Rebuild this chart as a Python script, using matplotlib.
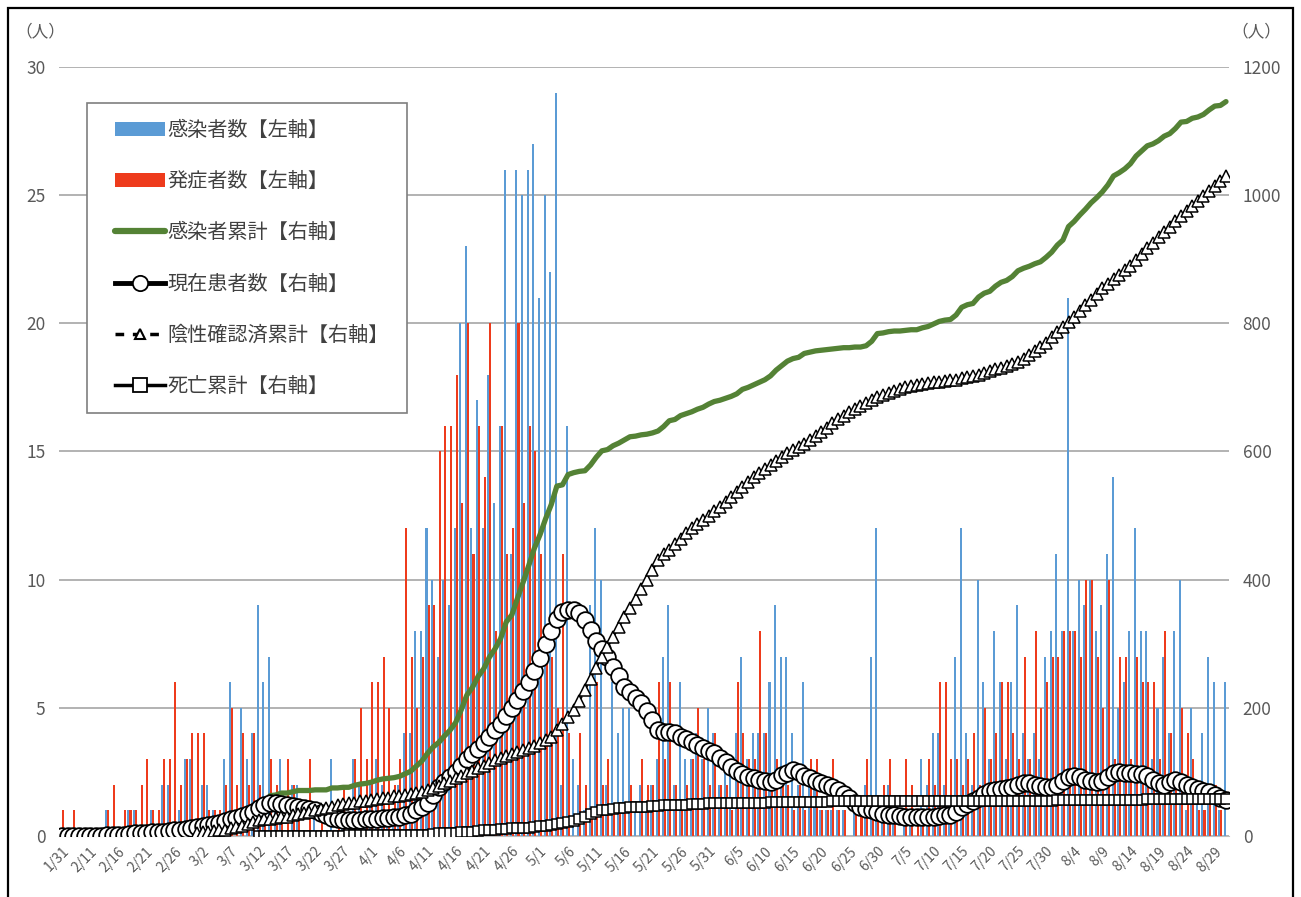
import numpy as np
import pandas as pd
import matplotlib
matplotlib.use('Agg')
import matplotlib.pyplot as plt
from matplotlib.lines import Line2D
from matplotlib.patches import Patch, Rectangle

plt.rcParams['font.family'] = ['Noto Sans CJK JP', 'DejaVu Sans']

# ---- categories ----
dates = ['1/31'] + [f'{d.month}/{d.day}' for d in pd.date_range('2020-02-07', '2020-08-31')]

# ---- daily infected (left axis) ----
infected = [
    0, 0, 0, 0, 0, 0, 0, 0, 1, 0,
    0, 0, 1, 1, 0, 0, 1, 0, 2, 2,
    0, 1, 3, 3, 0, 2, 2, 1, 0, 3,
    6, 0, 5, 3, 4, 9, 6, 7, 1, 3,
    0, 2, 2, 0, 0, 1, 0, 0, 3, 0,
    1, 0, 3, 2, 1, 2, 3, 2, 1, 1,
    2, 4, 4, 8, 8, 12, 10, 7, 10, 9,
    12, 20, 23, 12, 17, 12, 18, 13, 16, 26,
    11, 26, 25, 26, 27, 21, 25, 22, 29, 2,
    16, 3, 2, 1, 9, 12, 10, 2, 6, 4,
    5, 5, 1, 2, 1, 2, 3, 7, 9, 2,
    6, 3, 3, 4, 3, 5, 4, 2, 3, 3,
    4, 7, 3, 4, 4, 4, 6, 9, 7, 7,
    4, 2, 6, 2, 2, 1, 1, 1, 1, 1,
    0, 1, 0, 2, 7, 12, 1, 2, 1, 0,
    1, 1, 0, 3, 2, 4, 4, 2, 1, 7,
    12, 4, 2, 10, 6, 3, 8, 6, 3, 6,
    9, 4, 3, 4, 3, 7, 8, 11, 8, 21,
    8, 10, 9, 10, 8, 9, 11, 14, 5, 6,
    8, 12, 8, 8, 3, 5, 7, 4, 8, 10,
    1, 5, 2, 4, 7, 6, 1, 6,
]

# ---- daily onset (left axis) ----
onset = [
    1, 0, 1, 0, 0, 0, 0, 0, 1, 2,
    0, 1, 1, 1, 2, 3, 1, 1, 3, 3,
    6, 2, 3, 4, 4, 4, 1, 1, 1, 2,
    5, 2, 4, 2, 4, 2, 1, 3, 2, 1,
    3, 2, 1, 0, 3, 0, 1, 0, 0, 1,
    2, 0, 3, 5, 3, 6, 6, 7, 5, 2,
    3, 12, 7, 5, 7, 9, 9, 15, 16, 16,
    18, 13, 20, 11, 16, 14, 20, 8, 16, 11,
    12, 20, 13, 16, 15, 11, 8, 7, 5, 11,
    4, 0, 4, 2, 1, 6, 2, 3, 1, 1,
    1, 2, 0, 3, 2, 2, 6, 3, 6, 2,
    1, 2, 3, 5, 3, 2, 4, 2, 2, 1,
    6, 4, 3, 3, 8, 4, 2, 3, 2, 2,
    1, 2, 1, 3, 3, 1, 1, 3, 1, 1,
    0, 1, 1, 3, 1, 1, 2, 3, 1, 0,
    3, 2, 1, 1, 3, 2, 6, 6, 3, 3,
    2, 3, 4, 2, 5, 3, 4, 6, 6, 4,
    3, 7, 3, 8, 5, 6, 7, 7, 8, 8,
    8, 7, 10, 10, 7, 5, 10, 3, 7, 7,
    3, 7, 6, 6, 6, 3, 8, 4, 2, 5,
    4, 3, 1, 1, 2, 2, 1, 0,
]

# ---- current patients (right axis) ----
patients = [
    0, 0, 0, 0, 0, 0, 0, 0, 1, 1,
    1, 2, 3, 4, 4, 5, 6, 6, 7, 8,
    9, 10, 11, 12, 14, 16, 17, 18, 21, 23,
    26, 28, 31, 35, 38, 44, 48, 51, 51, 50,
    48, 47, 46, 44, 42, 40, 36, 32, 28, 26,
    25, 25, 25, 25, 26, 27, 27, 28, 28, 29,
    30, 32, 35, 40, 46, 52, 64, 76, 84, 92,
    100, 110, 120, 128, 136, 145, 155, 165, 175, 188,
    200, 212, 226, 240, 258, 278, 300, 320, 338, 350,
    352, 352, 348, 337, 322, 305, 292, 280, 264, 250,
    233, 225, 215, 207, 195, 181, 165, 163, 163, 160,
    155, 152, 147, 142, 138, 133, 129, 122, 115, 108,
    102, 97, 92, 90, 88, 86, 84, 88, 95, 98,
    103, 100, 94, 90, 86, 82, 79, 77, 72, 66,
    60, 52, 45, 42, 40, 38, 35, 33, 32, 31,
    30, 30, 30, 30, 30, 30, 31, 32, 33, 38,
    45, 50, 55, 60, 65, 70, 72, 74, 75, 77,
    79, 82, 82, 80, 78, 76, 77, 80, 86, 92,
    93, 92, 88, 86, 85, 86, 92, 98, 100, 99,
    98, 97, 96, 93, 88, 82, 80, 84, 87, 85,
    80, 77, 74, 71, 68, 64, 60, 56,
]

# ---- cumulative negative-confirmed (right axis) ----
negatives = [None] * 24 + [
    5, 6, 7, 8, 9, 10,
    12, 14, 16, 19, 22, 25, 26, 27, 28, 29,
    30, 32, 34, 36, 38, 40, 42, 44, 46, 48,
    50, 51, 52, 54, 55, 56, 57, 59, 60, 62,
    63, 64, 65, 67, 69, 72, 75, 78, 82, 86,
    90, 94, 98, 102, 106, 110, 114, 118, 121, 125,
    128, 131, 134, 137, 141, 145, 150, 155, 165, 175,
    185, 197, 210, 228, 245, 262, 280, 295, 310, 326,
    341, 356, 370, 385, 400, 415, 430, 440, 447, 455,
    464, 473, 480, 487, 493, 500, 507, 514, 521, 529,
    537, 545, 553, 560, 567, 573, 579, 585, 591, 597,
    602, 607, 612, 618, 624, 630, 637, 644, 650, 656,
    661, 666, 671, 676, 681, 685, 688, 691, 694, 697,
    700, 702, 704, 706, 707, 708, 709, 710, 711, 712,
    714, 716, 718, 720, 723, 726, 729, 731, 734, 737,
    740, 745, 751, 757, 763, 770, 778, 786, 794, 802,
    810, 819, 828, 837, 846, 855, 862, 869, 876, 883,
    890, 899, 908, 917, 926, 935, 943, 951, 959, 967,
    975, 983, 991, 999, 1007, 1015, 1022, 1030,
]

# ---- cumulative deaths (right axis) ----
deaths = [None] * 35 + [
    0, 0, 0, 0, 0, 0, 0, 0, 0, 0,
    0, 0, 0, 0, 0, 0, 1, 1, 1, 1,
    1, 1, 1, 1, 1, 1, 1, 2, 2, 2,
    2, 3, 4, 4, 5, 5, 6, 7, 7, 8,
    9, 10, 10, 11, 11, 12, 12, 13, 13, 14,
    15, 16, 17, 18, 20, 22, 24, 27, 30, 34,
    37, 40, 41, 42, 43, 44, 45, 45, 46, 46,
    47, 47, 48, 48, 49, 49, 49, 50, 50, 50,
    51, 51, 51, 51, 52, 52, 52, 52, 52, 52,
    52, 53, 53, 53, 53, 53, 53, 53, 53, 53,
    53, 53, 54, 54, 54, 54, 54, 54, 54, 54,
    54, 54, 54, 54, 54, 54, 54, 54, 54, 54,
    54, 54, 54, 54, 55, 55, 55, 55, 55, 55,
    55, 55, 55, 55, 55, 55, 55, 55, 55, 55,
    55, 55, 56, 56, 56, 56, 56, 56, 56, 56,
    56, 56, 56, 56, 56, 56, 56, 56, 57, 57,
    57, 57, 57, 57, 57, 57, 57, 57, 57, 57,
    57, 57, 57,
]

# cumulative infected = running total of daily infected, drawn from 3/14 on
cum_start = 37

n = len(dates)
for arr in (infected, onset, patients, negatives, deaths):
    assert len(arr) == n, len(arr)

labels = ['感染者数【左軸】', '発症者数【左軸】', '感染者累計【右軸】',
          '現在患者数【右軸】', '陰性確認済累計【右軸】', '死亡累計【右軸】']

BLUE = '#5B9BD5'
RED = '#EE3B1C'
GREEN = '#548235'
GRID = '#A6A6A6'
TXT = '#595959'

W, H = 1301, 897
fig = plt.figure(figsize=(W / 100, H / 100), dpi=100)
left_px, right_px, top_px, bot_px = 59.2, 1228.8, 67, 836
ax = fig.add_axes([left_px / W, 1 - bot_px / H, (right_px - left_px) / W, (bot_px - top_px) / H])
ax2 = ax.twinx()

x = np.arange(n)
inf = np.array(infected, dtype=float)
ons = np.array(onset, dtype=float)
ax.bar(x - 0.18, inf, width=0.36, color=BLUE, linewidth=0, zorder=2)
ax.bar(x + 0.18, ons, width=0.36, color=RED, linewidth=0, zorder=2)

ax.set_xlim(-0.5, n - 0.5)
ax.set_ylim(0, 30)
ax.set_yticks(np.arange(0, 31, 5))
ax.yaxis.grid(True, color=GRID, linewidth=1.2)
ax.set_axisbelow(True)
ax.tick_params(axis='y', length=0, pad=10, labelsize=12.5, labelcolor=TXT)
ticks = np.arange(0, n, 5)
ax.set_xticks(ticks)
ax.set_xticklabels([dates[i] for i in ticks], rotation=45, ha='right', va='top',
                   rotation_mode='anchor', fontsize=10, color=TXT)
ax.tick_params(axis='x', length=0, pad=6)
for s in ['left', 'right', 'top']:
    ax.spines[s].set_visible(False)
ax.spines['bottom'].set_color('#BFBFBF')

cum = np.cumsum(inf)
cum[:cum_start] = np.nan
ax2.plot(x, cum, color=GREEN, lw=3.8, solid_capstyle='round', zorder=3)
ax2.plot(x, np.array(patients, dtype=float), color='black', lw=3, marker='o', ms=12,
         mfc='white', mec='black', mew=1.3, zorder=4)
ax2.plot(x, np.array(negatives, dtype=float), color='black', lw=1.5, ls=(0, (4, 2)),
         marker='^', ms=9, mfc='white', mec='black', mew=1.1, zorder=5)
ax2.plot(x, np.array(deaths, dtype=float), color='black', lw=1.5, marker='s', ms=7.5,
         mfc='white', mec='black', mew=1.1, zorder=6)
ax2.set_ylim(0, 1200)
ax2.set_yticks(np.arange(0, 1201, 200))
ax2.tick_params(axis='y', length=0, pad=10, labelsize=12.5, labelcolor=TXT)
for s in ['left', 'right', 'top', 'bottom']:
    ax2.spines[s].set_visible(False)

# units
fig.text(40 / W, 1 - 32 / H, '（人）', ha='center', va='center', fontsize=12, color=TXT)
fig.text(1256 / W, 1 - 32 / H, '（人）', ha='center', va='center', fontsize=12, color=TXT)

# legend
handles = [
    Patch(facecolor=BLUE, edgecolor='none'),
    Patch(facecolor=RED, edgecolor='none'),
    Line2D([], [], color=GREEN, lw=4.5, solid_capstyle='round'),
    Line2D([], [], color='black', lw=3.5, marker='o', ms=11, mfc='white', mec='black', mew=1.3),
    Line2D([], [], color='black', lw=2.5, ls=(0, (2.5, 2.5)), marker='^', ms=7, mfc='white',
           mec='black', mew=1.5),
    Line2D([], [], color='black', lw=2.5, marker='s', ms=10, mfc='white', mec='black', mew=1.3),
]
fig.add_artist(Rectangle((87 / W, 1 - 413 / H), (407 - 87) / W, (413 - 103) / H,
                         transform=fig.transFigure, facecolor='white', edgecolor='#7F7F7F',
                         lw=1.2, zorder=9))
leg = fig.legend(handles, labels, loc='upper left', bbox_to_anchor=(115 / W, 1 - 120 / H),
                 frameon=False, fontsize=14.5, handlelength=2.5, handleheight=0.7,
                 handletextpad=0.1, labelspacing=1.5, borderpad=0, borderaxespad=0)
leg.set_zorder(10)
for t in leg.get_texts():
    t.set_color('#404040')

# outer frame
fig.add_artist(Rectangle((8 / W, -0.02), (1293 - 8) / W, 1 - 8 / H + 0.02,
                         transform=fig.transFigure, fill=False, edgecolor='black', lw=1.6))

fig.savefig('out.png', dpi=100)
